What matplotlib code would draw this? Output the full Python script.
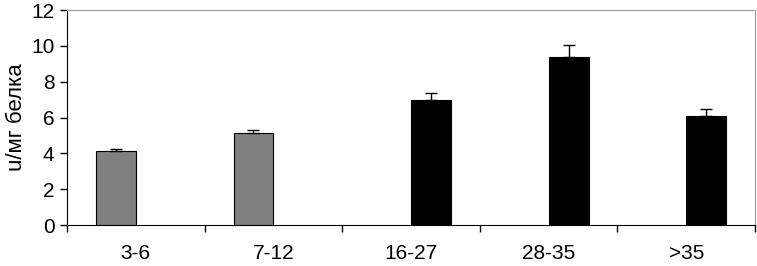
import matplotlib.pyplot as plt
import numpy as np

# age groups and enzyme activity
categories = ['3-6', '7-12', '16-27', '28-35', '>35']
values = [4.15, 5.16, 6.98, 9.40, 6.09]
errors = [0.12, 0.12, 0.41, 0.67, 0.37]
group = ['young', 'young', 'adult', 'adult', 'adult']

plt.rcParams['font.family'] = ['Liberation Sans', 'DejaVu Sans']

fig = plt.figure(figsize=(7.57, 2.66), dpi=100)
ax = fig.add_axes([0.0885, 0.154, 0.909, 0.808])

x = np.arange(len(categories))
w = 0.29
off = 0.145
for i in range(len(categories)):
    if group[i] == 'young':
        xi = x[i] - off
        col = '#808080'
    else:
        xi = x[i] + off
        col = 'black'
    ax.bar(xi, values[i], width=w, color=col, edgecolor='black', linewidth=0.8, zorder=2)
    ax.errorbar(xi, values[i], yerr=[[0], [errors[i]]], fmt='none', ecolor='black',
                elinewidth=1, capsize=4, capthick=1, zorder=3)

ax.set_xlim(-0.5, len(categories) - 0.5)
ax.set_ylim(0, 12)
ax.set_yticks(range(0, 13, 2))
ax.set_xticks(x)
ax.set_xticklabels(categories)
ax.set_xticks(np.arange(-0.5, len(categories), 1.0), minor=True)
ax.tick_params(axis='x', which='major', length=0, pad=14, labelsize=15)
ax.tick_params(axis='x', which='minor', length=5, direction='out', width=1)
ax.tick_params(axis='y', length=5, direction='out', width=1, labelsize=15, pad=4)
ax.set_ylabel('u/мг белка', fontsize=16, labelpad=3)

for s in ['top', 'right']:
    ax.spines[s].set_color('#999999')
for s in ['left', 'bottom']:
    ax.spines[s].set_color('black')

fig.savefig('out.png', dpi=100)
